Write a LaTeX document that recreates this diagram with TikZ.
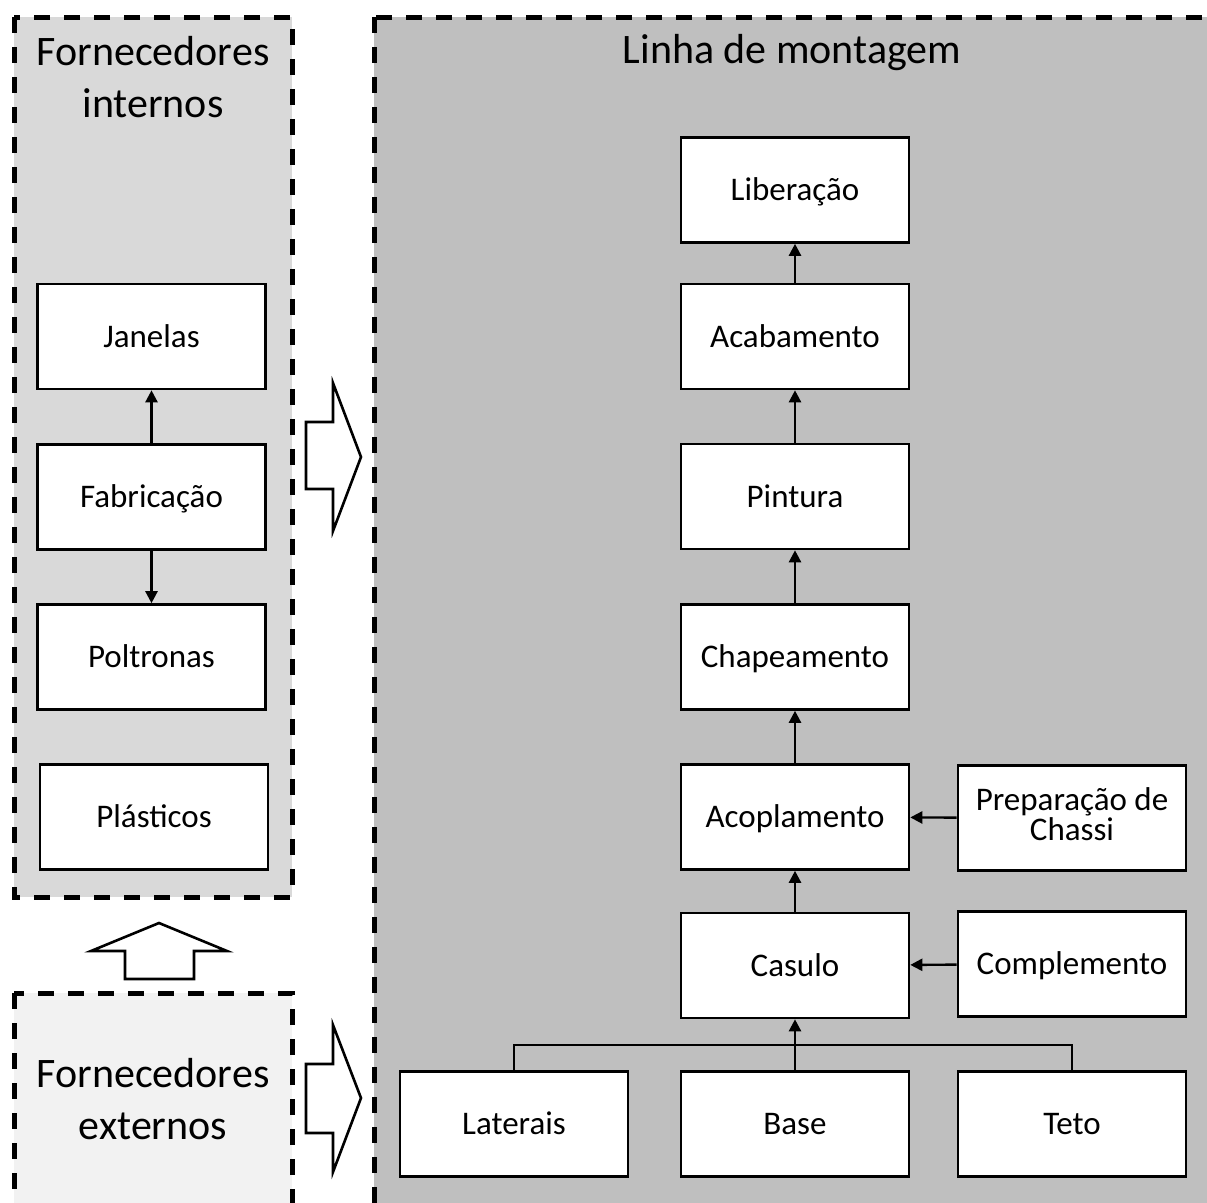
\documentclass[tikz,border=0pt]{standalone}
\usepackage{fontspec}
\setmainfont{Carlito}
\usetikzlibrary{arrows.meta}
\definecolor{interno}{HTML}{D9D9D9}
\definecolor{externo}{HTML}{F2F2F2}
\definecolor{linha}{HTML}{BFBFBF}
\begin{document}
\begin{tikzpicture}
          [x=1pt,y=-1pt,
           every node/.style={draw, rectangle, fill=white, line width=2.6pt, minimum width=228pt, minimum height=105pt, inner sep=0pt, align=center, text height=24pt, text depth=3pt, font=\fontsize{33}{33}\selectfont},
           title/.style={draw=none, fill=none, minimum width=0pt, minimum height=0pt, text height=, text depth=, font=\fontsize{42}{52}\selectfont},
           area/.style={line width=5pt, dash pattern=on 16pt off 14pt},
           bigarrow/.style={draw, fill=white, line width=2.6pt, line join=miter},
           flow/.style={line width=2.4pt, -{Triangle[length=12pt,width=12pt]}}]
        \useasboundingbox (0,0) rectangle (1207,1202);
        \clip (0,0) rectangle (1207,1202);

        \draw[area, fill=interno] (14,17) rectangle (292,897);
        \draw[area, fill=externo] (14,993) rectangle (292,1230);
        \draw[area, fill=linha] (374,17) rectangle (1240,1230);

        \node[title] (tint) at (153,77) {Fornecedores\\internos};
        \node[title] (text) at (153,1099) {Fornecedores\\externos};
        \node[title] (tlin) at (792,53) {Linha de montagem};

        \node (jan) at (151.5,336.5) {Janelas};
        \node (fab) at (151.5,497) {Fabricação};
        \node (pol) at (151.5,657) {Poltronas};
        \node (pla) at (154,817) {Plásticos};

        \node (lib) at (795,190) {Liberação};
        \node (aca) at (795,336.5) {Acabamento};
        \node (pin) at (795,496.5) {Pintura};
        \node (cha) at (795,657) {Chapeamento};
        \node (aco) at (795,817) {Acoplamento};
        \node (cas) at (795,965.5) {Casulo};
        \node[text height=, text depth=] (pre) at (1072,818) {Preparação de\\[-3pt]Chassi\\[-25pt]};
        \node (com) at (1072,964) {Complemento};
        \node (lat) at (514,1124) {Laterais};
        \node (bas) at (795,1124) {Base};
        \node (tet) at (1072,1124) {Teto};

        \foreach \from/\to in {fab/jan, fab/pol, aca/lib, pin/aca, cha/pin, aco/cha, cas/aco, pre/aco, com/cas, bas/cas}
          \draw[flow] (\from) -- (\to);

        \coordinate (junta) at (795,1045);
        \draw[line width=2.4pt] (lat.north) |- (junta) -| (tet.north);

        % setas largas
        \draw[bigarrow] (306,422) -- (333,422) -- (333,383) -- (361,457) -- (333,531) -- (333,489) -- (306,489) -- cycle;
        \draw[bigarrow] (306,1064) -- (333,1064) -- (333,1025) -- (361,1098) -- (333,1172) -- (333,1133) -- (306,1133) -- cycle;
        \draw[bigarrow] (125,979) -- (125,951) -- (91,951) -- (159,923) -- (227,951) -- (194,951) -- (194,979) -- cycle;
      \end{tikzpicture}
\end{document}
